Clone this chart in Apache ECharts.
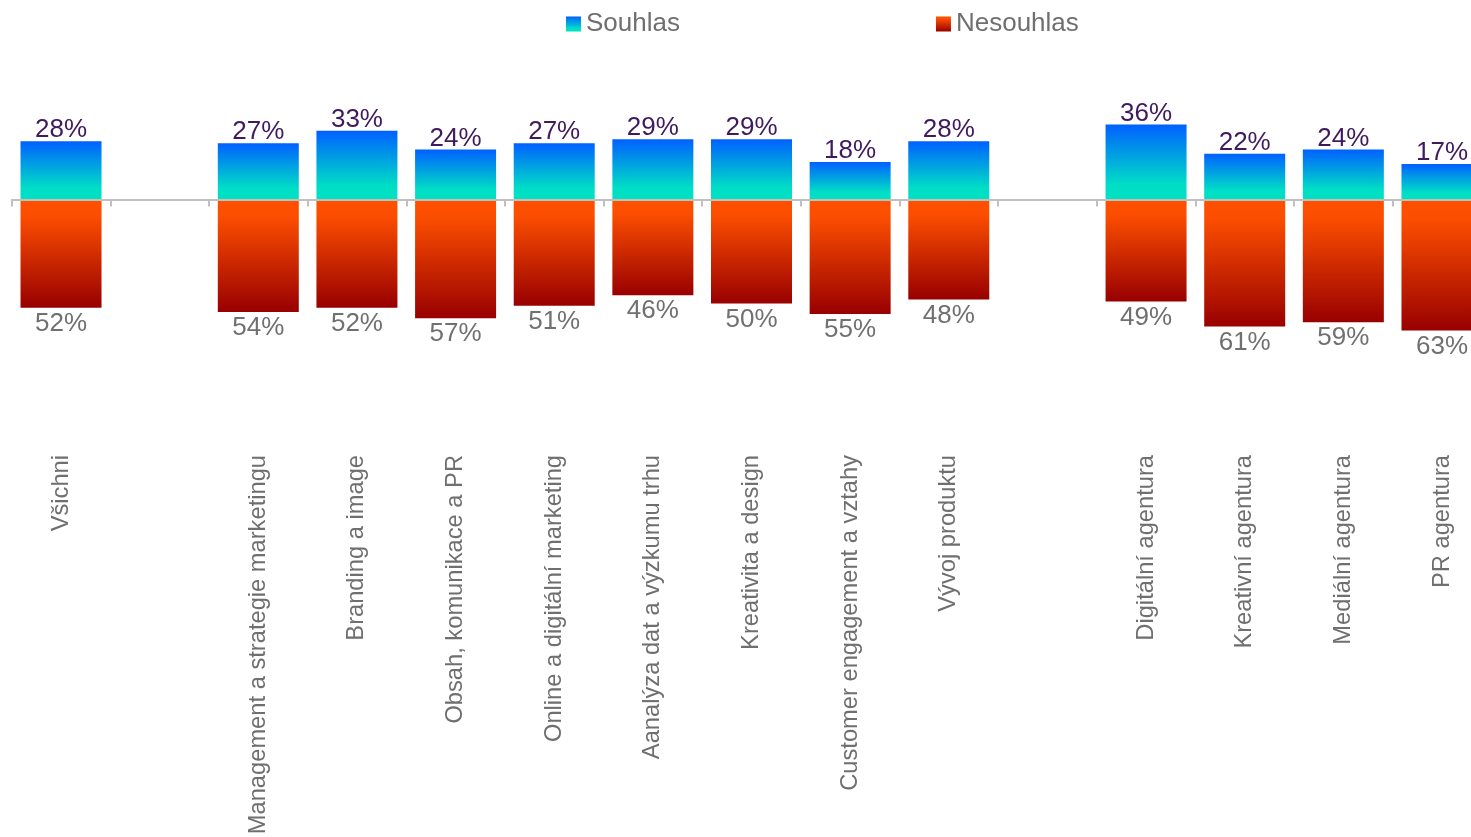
<!DOCTYPE html>
<html>
<head>
<meta charset="utf-8">
<script src="https://cdn.jsdelivr.net/npm/echarts@6/dist/echarts.min.js"></script>
<style>html,body{margin:0;padding:0;background:#fff;}#c{width:1471px;height:837px;}</style>
</head>
<body>
<div id="c"></div>
<script>
const categories = ["Všichni", "", "Management a strategie marketingu", "Branding a image", "Obsah, komunikace a PR", "Online a digitální marketing", "Aanalýza dat a výzkumu trhu", "Kreativita a design", "Customer engagement a vztahy", "Vývoj produktu", " ", "Digitální agentura", "Kreativní agentura", "Mediální agentura", "PR agentura"];
const souhlas = [28, null, 27, 33, 24, 27, 29, 29, 18, 28, null, 36, 22, 24, 17];
const nesouhlas = [52, null, 54, 52, 57, 51, 46, 50, 55, 48, null, 49, 61, 59, 63];
const seriesNames = ["Souhlas", "Nesouhlas"];

const FONT = "Liberation Sans, Arial, sans-serif";
const chart = echarts.init(document.getElementById('c'));
const gPos = new echarts.graphic.LinearGradient(0, 0, 0, 1, [
  {offset: 0, color: '#0060FF'},
  {offset: 0.8, color: '#00DEC6'},
  {offset: 1, color: '#00E2C2'}
]);
const gNeg = new echarts.graphic.LinearGradient(0, 0, 0, 1, [
  {offset: 0, color: '#FF5000'},
  {offset: 0.15, color: '#FC4E00'},
  {offset: 1, color: '#980000'}
]);
chart.setOption({
  animation: false,
  textStyle: {fontFamily: FONT},
  legend: {
    left: 561, top: 6,
    icon: 'rect',
    itemWidth: 15, itemHeight: 15, itemGap: 256,
    textStyle: {fontSize: 26, color: '#6f6f6f', fontFamily: FONT},
    data: seriesNames
  },
  grid: {left: 11.7, top: 33, width: 1479.6, height: 333, containLabel: false, outerBoundsMode: 'none'},
  xAxis: {
    type: 'category',
    data: categories,
    z: 5,
    axisLine: {onZero: true, lineStyle: {color: '#c0c0c0', width: 2}},
    axisTick: {show: true, length: 7, lineStyle: {color: '#c0c0c0', width: 2}},
    axisLabel: {rotate: 90, margin: 89, interval: 0, fontSize: 23.7, color: '#6f6f6f', fontFamily: FONT}
  },
  yAxis: {type: 'value', min: -80, max: 80, show: false, splitLine: {show: false}},
  series: [
    {
      name: seriesNames[0], type: 'bar', barWidth: 81, barGap: '-100%',
      data: souhlas,
      itemStyle: {color: gPos},
      label: {show: true, position: 'top', distance: -2, fontSize: 26, color: '#3f1a5e', fontFamily: FONT,
        formatter: p => p.value + '%'}
    },
    {
      name: seriesNames[1], type: 'bar', barWidth: 81,
      data: nesouhlas.map(v => v == null ? null : -v),
      itemStyle: {color: gNeg},
      label: {show: true, position: 'bottom', distance: 3, fontSize: 26, color: '#707070', fontFamily: FONT,
        formatter: p => Math.abs(p.value) + '%'}
    }
  ]
});
</script>
</body>
</html>
